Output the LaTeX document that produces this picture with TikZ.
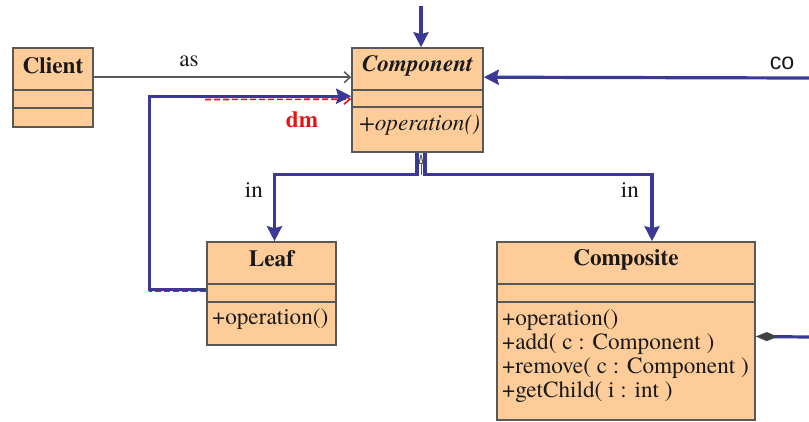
\documentclass[tikz,border=0pt]{standalone}
\usepackage{fontspec}
\setmainfont{TeX Gyre Termes}
\newfontfamily\umlserif{TeX Gyre Termes}
\newfontfamily\labelsans{Liberation Sans}
\usetikzlibrary{arrows.meta}

\definecolor{peach}{RGB}{253,204,153}
\definecolor{edgegray}{RGB}{88,88,88}
\definecolor{umlblue}{RGB}{58,58,150}
\definecolor{umlred}{RGB}{232,20,20}

\newcommand{\umlsize}{\fontsize{23.2}{24}\selectfont}

\tikzset{
  classbox/.style={rectangle, draw=edgegray, line width=1.6pt, fill=peach, inner sep=0pt},
  compline/.style={draw=edgegray, line width=1.6pt},
  umltext/.style={font=\umlserif\umlsize, inner sep=0pt, text=black!90},
  classname/.style={umltext, font=\umlserif\umlsize\bfseries},
  members/.style={umltext, anchor=west, align=left},
  bluewire/.style={draw=umlblue, line width=3.2pt},
  bluetip/.style={-{Stealth[length=15pt, width=15pt, inset=2pt]}},
  reddash/.style={draw=umlred, line width=1.6pt, dash pattern=on 6pt off 3pt},
  assoc/.style={draw=edgegray, line width=1.5pt, -{Straight Barb[length=6pt, width=11pt, line width=1.5pt]}},
}

\begin{document}
\begin{tikzpicture}[x=1pt, y=-1pt]
  \useasboundingbox (0,0) rectangle (809,421);

  % ---- class boxes ----
  \node[classbox, minimum width=80pt,  minimum height=79pt]  (client) at (53,87.5)   {};
  \node[classbox, minimum width=131pt, minimum height=104pt] (comp)   at (417.5,100) {};
  \node[classbox, minimum width=129pt, minimum height=103pt] (leaf)   at (271.5,293.5) {};
  \node[classbox, minimum width=258pt, minimum height=178pt] (compo)  at (626,331)   {};

  % compartment separators
  \foreach \b/\a/\c in {client/43/61, comp/43/60, leaf/43/61, compo/43/61}{
    \draw[compline] ([yshift=-\a pt]\b.north west) -- ([yshift=-\a pt]\b.north east);
    \draw[compline] ([yshift=-\c pt]\b.north west) -- ([yshift=-\c pt]\b.north east);
  }

  % class names
  \node[classname] (clientname) at (53,66)  {Client};
  \node[umltext, font=\umlserif\umlsize\bfseries\itshape] (compname) at (417.5,66) {Component};
  \node[classname] (leafname)   at (271.5,259) {Leaf};
  \node[classname] (componame)  at (626,260)   {Composite};

  % operations
  \node[members, font=\umlserif\umlsize\itshape] (compops) at (359,125) {+operation()};
  \node[members] (leafops)  at (212,319) {+operation()};
  \node[members] (compoops) at (502,356) {+operation()\\+add( c : Component )\\+remove( c : Component )\\+getChild( i : int )};

  % ---- connectors ----
  % association Client -> Component
  \draw[assoc] ([yshift=-30pt]client.north east) -- ([yshift=-30pt]comp.north west);
  \node[umltext] (aslabel) at (189,61) {as};

  % incoming arrow from above
  \coordinate (topsrc) at (421,6);
  \draw[bluewire, bluetip] (topsrc) -- ([xshift=3.5pt]comp.north);

  % incoming arrow from the right
  \coordinate (cosrc) at (809,78);
  \draw[bluewire, bluetip] (cosrc) -- ([yshift=-30pt]comp.north east);
  \node[umltext, font=\labelsans\umlsize] (colabel) at (782,63) {co};

  % dm: Leaf back to Component (red dashed trace under the blue wire)
  \coordinate (dmred) at (205,99.5);
  \draw[reddash] ([yshift=-50pt]leaf.north west) -- ++(-57,0);
  \draw[reddash, -{Straight Barb[length=6pt, width=10pt, line width=1.6pt]}]
       (dmred) -- ([yshift=-52pt]comp.north west);
  \draw[bluewire, bluetip] ([yshift=-48pt]leaf.north west) -- ++(-57,0) |- ([yshift=-49pt]comp.north west);
  \node[umltext, text=umlred, font=\umlserif\umlsize\bfseries] (dmlabel) at (302,120) {dm};

  % inheritance fork below Component
  \coordinate (genL) at ([xshift=-0.5pt]comp.south);
  \coordinate (genR) at ([xshift=7.5pt]comp.south);
  \coordinate (genM) at ([xshift=3.5pt]comp.south);
  \draw[bluewire, bluetip] (genL) -- ++(0,22) -| ([xshift=3pt]leaf.north);
  \draw[bluewire, bluetip] (genR) -- ++(0,22) -| ([xshift=26pt]compo.north);
  \draw[draw=edgegray, line width=1pt,
        -{Triangle[open, fill=yellow!20, length=11pt, width=5pt]}]
       ([yshift=-22pt]genM) -- (genM);
  \node[umltext] (inleft)  at (254,190) {in};
  \node[umltext] (inright) at (630,190) {in};

  % composition into Composite
  \coordinate (aggsrc) at (809,337);
  \draw[bluewire, -{Diamond[length=22pt, width=9pt, fill=black!75, color=black!75]}]
       (aggsrc) -- ([yshift=-5.5pt]compo.east);
\end{tikzpicture}
\end{document}
